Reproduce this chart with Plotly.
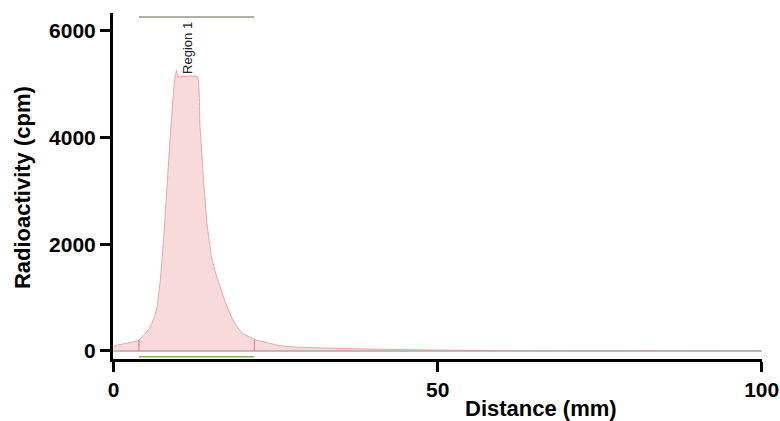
import numpy as np
import plotly.graph_objects as go

# ---- data ----
distance_mm = [0, 0.5, 2.0, 3.0, 3.9, 4.9, 5.5, 5.9, 6.3, 6.7, 7.2, 7.7, 8.2, 8.7, 9.25, 9.5, 9.7, 9.9,
               12.9, 13.3, 13.8, 14.4, 15.1, 15.6, 16.1, 17.1, 18.4, 19.2, 19.9, 21.0, 22.0, 24.1, 25.6,
               28, 31, 36, 40, 45, 50, 55, 60, 70, 80, 90, 100]
radioactivity_cpm = [90, 110, 145, 170, 205, 330, 420, 520, 650, 830, 1330, 2080, 3015, 3950, 4890, 5150, 5260, 5140,
                     5140, 4260, 3330, 2390, 1770, 1520, 1330, 955, 580, 430, 330, 260, 206, 144, 100,
                     75, 60, 45, 35, 25, 18, 12, 8, 6, 5, 4, 3]
region_name = "Region 1"
region_start_mm = 3.9
region_end_mm = 21.7
region_bar_cpm = 6255
region_label_cpm = 5680
region_marker_cpm = -107
x_ticks = [0, 50, 100]
y_ticks = [0, 2000, 4000, 6000]

FONT = "Liberation Sans, Arial, sans-serif"

fig = go.Figure()
fig.add_trace(go.Scatter(
    x=distance_mm, y=radioactivity_cpm, mode="lines",
    line=dict(color="rgb(236,165,165)", width=1, shape="spline", smoothing=0.4),
    fill="tozeroy", fillcolor="rgb(248,218,218)",
    hoverinfo="skip", showlegend=False,
))

# baseline
fig.add_shape(type="line", x0=0, x1=100, y0=0, y1=0, xref="x", yref="y",
              line=dict(color="rgb(175,165,165)", width=1.5))
# region boundaries
for xb in (region_start_mm, region_end_mm):
    yb = float(np.interp(xb, distance_mm, radioactivity_cpm))
    fig.add_shape(type="line", x0=xb, x1=xb, y0=0, y1=yb, xref="x", yref="y",
                  line=dict(color="rgb(222,120,120)", width=1))
# region bar on top
fig.add_shape(type="line", x0=region_start_mm, x1=region_end_mm, y0=region_bar_cpm, y1=region_bar_cpm,
              xref="x", yref="y", line=dict(color="rgb(150,150,135)", width=1.5))
# region marker below baseline
fig.add_shape(type="line", x0=region_start_mm, x1=region_end_mm, y0=region_marker_cpm, y1=region_marker_cpm,
              xref="x", yref="y", line=dict(color="rgb(130,175,100)", width=1.5))

fig.add_annotation(x=(region_start_mm + region_end_mm) / 2 - 1.3, y=region_label_cpm, xref="x", yref="y",
                   text=region_name, textangle=-90, showarrow=False,
                   font=dict(family=FONT, size=13, color="#222"))

# axis titles (placed by pixel offset from the plot area)
fig.add_annotation(x=0, y=0.494, xref="paper", yref="paper", xshift=-91, text="Radioactivity (cpm)",
                   textangle=-90, showarrow=False, xanchor="center", yanchor="middle",
                   font=dict(family=FONT, size=22, color="black", weight="bold"))
fig.add_annotation(x=0.6595, y=0, xref="paper", yref="paper", yshift=-49, text="Distance (mm)",
                   showarrow=False, xanchor="center", yanchor="middle",
                   font=dict(family=FONT, size=22, color="black", weight="bold"))

fig.update_layout(
    width=780, height=421, autosize=False,
    margin=dict(l=113, r=18, t=13, b=62),
    paper_bgcolor="white", plot_bgcolor="white",
    showlegend=False,
    xaxis=dict(range=[-0.1, 100.05], tickvals=x_ticks, ticktext=[str(v) for v in x_ticks],
               automargin=False, ticklabeloverflow="allow",
               showgrid=False, zeroline=False, showline=True, linecolor="black", linewidth=3,
               ticks="outside", ticklen=10, tickwidth=2.5, tickcolor="black",
               tickfont=dict(family=FONT, size=21, color="black", weight="bold")),
    yaxis=dict(range=[-150, 6331], tickvals=y_ticks, ticktext=[str(v) for v in y_ticks],
               automargin=False, ticklabeloverflow="allow",
               showgrid=False, zeroline=False, showline=True, linecolor="black", linewidth=3,
               ticks="outside", ticklen=10, tickwidth=2.5, tickcolor="black",
               tickfont=dict(family=FONT, size=21, color="black", weight="bold")),
)

fig.write_html("out.html",
               config={"displayModeBar": False, "responsive": False},
               post_script="document.body.style.margin='0';document.body.style.overflow='hidden';")
